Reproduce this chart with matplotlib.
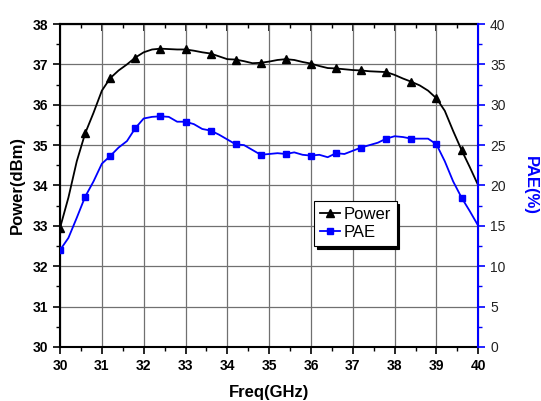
import matplotlib
matplotlib.use("Agg")
import matplotlib.pyplot as plt
from matplotlib.ticker import MultipleLocator

freq = [30.0, 30.2, 30.4, 30.6, 30.8, 31.0, 31.2, 31.4, 31.6, 31.8,
        32.0, 32.2, 32.4, 32.6, 32.8, 33.0, 33.2, 33.4, 33.6, 33.8,
        34.0, 34.2, 34.4, 34.6, 34.8, 35.0, 35.2, 35.4, 35.6, 35.8,
        36.0, 36.2, 36.4, 36.6, 36.8, 37.0, 37.2, 37.4, 37.6, 37.8,
        38.0, 38.2, 38.4, 38.6, 38.8, 39.0, 39.2, 39.4, 39.6, 39.8, 40.0]

power = [32.95, 33.70, 34.60, 35.29, 35.80, 36.35, 36.66, 36.85, 37.00, 37.17,
         37.30, 37.37, 37.39, 37.38, 37.37, 37.37, 37.34, 37.30, 37.27, 37.20,
         37.13, 37.12, 37.08, 37.03, 37.04, 37.07, 37.11, 37.13, 37.11, 37.06,
         37.02, 36.96, 36.91, 36.90, 36.88, 36.86, 36.85, 36.83, 36.82, 36.81,
         36.74, 36.65, 36.57, 36.48, 36.35, 36.16, 35.85, 35.35, 34.88, 34.45, 34.00]

pae = [12.0, 13.5, 16.0, 18.6, 20.5, 22.7, 23.65, 24.7, 25.5, 27.1,
       28.3, 28.5, 28.57, 28.5, 27.9, 27.9, 27.6, 27.0, 26.8, 26.3,
       25.7, 25.1, 25.0, 24.4, 23.8, 23.9, 24.0, 23.9, 24.1, 23.8,
       23.7, 23.8, 23.5, 24.0, 23.9, 24.3, 24.7, 25.0, 25.3, 25.8,
       26.1, 26.0, 25.8, 25.8, 25.8, 25.1, 23.0, 20.5, 18.5, 16.8, 15.0]

plt.rcParams['font.family'] = ['Liberation Sans', 'DejaVu Sans']

fig = plt.figure(figsize=(5.41, 4.01), dpi=100)
ax = fig.add_axes([0.111, 0.135, 0.773, 0.805])
ax2 = ax.twinx()

l1, = ax.plot(freq, power, color='black', lw=1.3, marker='^', ms=6,
              markevery=3, label='Power')
l2, = ax2.plot(freq, pae, color='#0000ff', lw=1.3, marker='s', ms=5,
               markevery=3, label='PAE')

ax.set_xlim(30, 40)
ax.set_ylim(30, 38)
ax2.set_ylim(0, 40)

ax.xaxis.set_major_locator(MultipleLocator(1))
ax.xaxis.set_minor_locator(MultipleLocator(0.5))
ax.yaxis.set_major_locator(MultipleLocator(1))
ax.yaxis.set_minor_locator(MultipleLocator(0.5))
ax2.yaxis.set_major_locator(MultipleLocator(5))
ax2.yaxis.set_minor_locator(MultipleLocator(2.5))

ax.grid(True, which='major', color='#707070', lw=0.9)
ax.set_axisbelow(True)

ax.tick_params(axis='both', which='both', direction='out', top=False, right=False)
ax.tick_params(axis='both', which='major', length=5, width=1.2, labelsize=10)
ax.tick_params(axis='both', which='minor', length=3, width=1.0)
for lab in ax.get_xticklabels() + ax.get_yticklabels():
    lab.set_fontweight('bold')

top = ax.secondary_xaxis('top')
top.xaxis.set_major_locator(MultipleLocator(1))
top.xaxis.set_minor_locator(MultipleLocator(0.5))
top.tick_params(axis='x', which='both', direction='in', labeltop=False)
top.tick_params(axis='x', which='major', length=5, width=1.2)
top.tick_params(axis='x', which='minor', length=3, width=1.0)
top.spines['top'].set_linewidth(1.5)

ax2.tick_params(axis='y', which='both', direction='out', colors='#0000ff',
                labelcolor='#222222', labelsize=10)
ax2.tick_params(axis='y', which='major', length=5, width=1.2)
ax2.tick_params(axis='y', which='minor', length=3, width=1.0)

for s in ['left', 'bottom', 'top']:
    ax.spines[s].set_linewidth(1.5)
ax2.spines['right'].set_color('#0000ff')
ax2.spines['right'].set_linewidth(1.5)
for s in ['left', 'bottom', 'top']:
    ax2.spines[s].set_visible(False)

ax.set_xlabel('Freq(GHz)', fontsize=12, fontweight='bold', labelpad=9)
ax.set_ylabel('Power(dBm)', fontsize=12, fontweight='bold', labelpad=6)
ax2.set_ylabel('PAE(%)', fontsize=12, fontweight='bold', color='#0000ff',
               rotation=270, labelpad=23)

leg = ax2.legend(handles=[l1, l2], loc='upper left',
                 bbox_to_anchor=(0.608, 0.452), fancybox=False,
                 shadow={'color': 'black', 'alpha': 1.0},
                 edgecolor='black', framealpha=1, fontsize=12,
                 handlelength=1.2, handletextpad=0.2, borderpad=0.35,
                 labelspacing=0.2, borderaxespad=0)
leg.get_frame().set_linewidth(0.8)

fig.savefig('out.png', dpi=100)
